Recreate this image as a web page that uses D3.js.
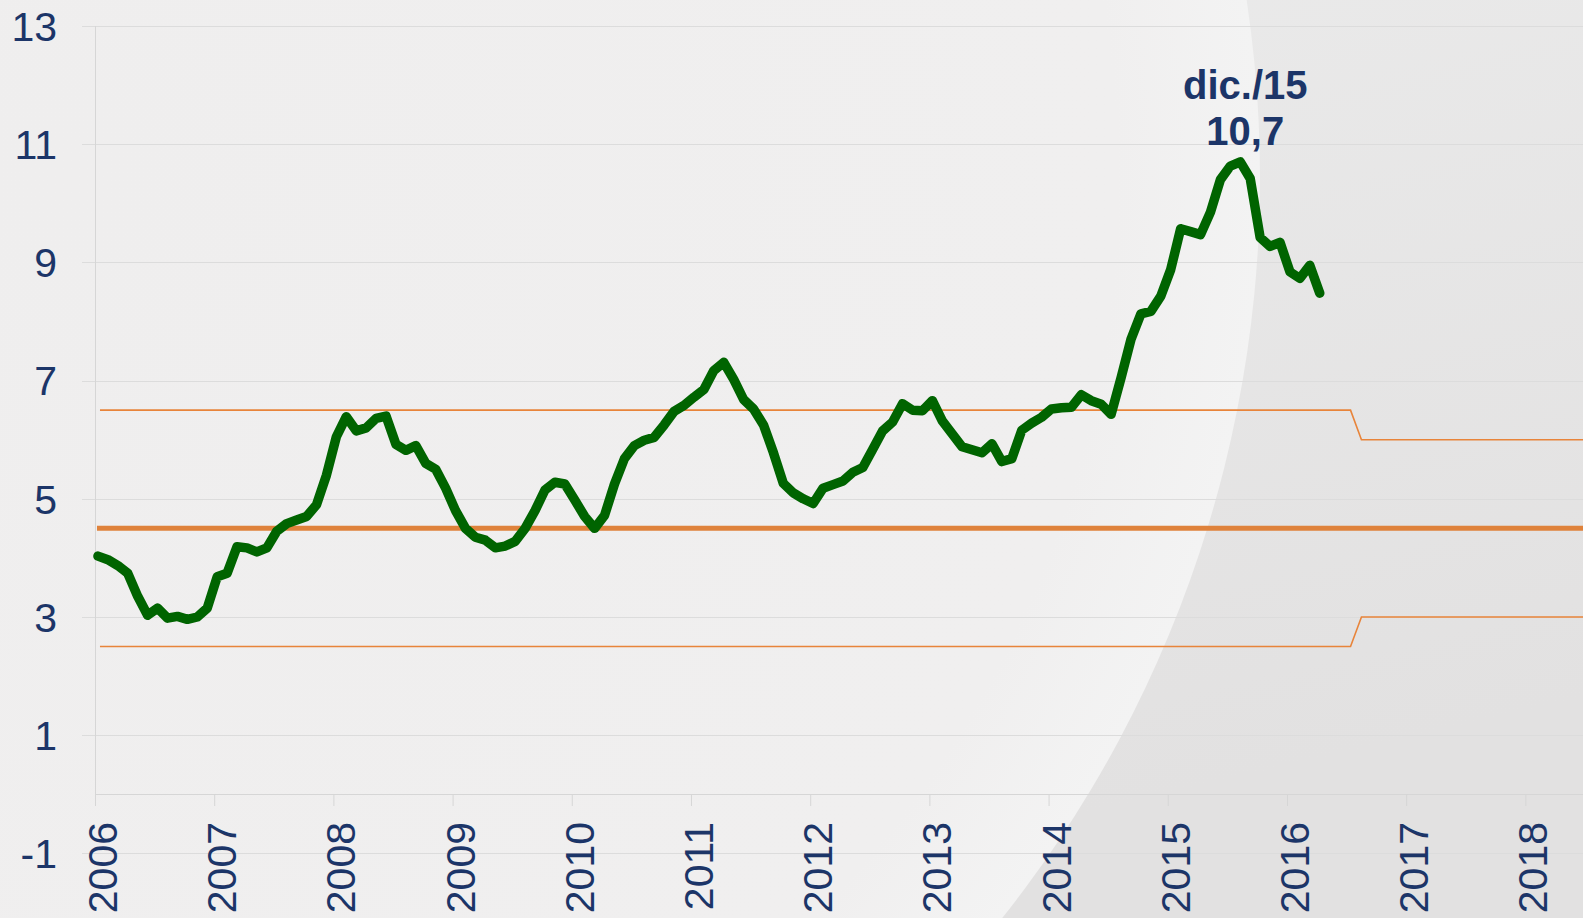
<!DOCTYPE html>
<html>
<head>
<meta charset="utf-8">
<script src="https://cdn.jsdelivr.net/npm/d3@7"></script>
<style>
  html, body { margin: 0; padding: 0; background: #efefef; overflow: hidden; }
  #chart { width: 1583px; height: 918px; }
  text { font-family: "Liberation Sans", Arial, sans-serif; }
</style>
</head>
<body>
<div id="chart"></div>
<script>
// monthly values, first point just right of the 2006 tick, peak = dic./15
var values = [
  4.03, 3.97, 3.87, 3.74, 3.35, 3.03, 3.15, 2.98, 3.01, 2.96, 3.0, 3.15,
  3.68, 3.74, 4.19, 4.17, 4.1, 4.17, 4.45, 4.58, 4.64, 4.7, 4.9, 5.4,
  6.05, 6.39, 6.15, 6.2, 6.36, 6.4, 5.92, 5.82, 5.9, 5.6, 5.5, 5.18,
  4.8, 4.5, 4.35, 4.3, 4.17, 4.2, 4.28, 4.5, 4.8, 5.15, 5.28, 5.25,
  4.98, 4.7, 4.5, 4.72, 5.25, 5.68, 5.9, 5.99, 6.04, 6.25, 6.48, 6.58,
  6.72, 6.85, 7.17, 7.31, 7.02, 6.68, 6.52, 6.25, 5.78, 5.26, 5.1, 5.0,
  4.92, 5.18, 5.24, 5.3, 5.45, 5.53, 5.84, 6.15, 6.3, 6.61, 6.5, 6.49,
  6.66, 6.32, 6.1, 5.88, 5.83, 5.78, 5.93, 5.63, 5.68, 6.16, 6.28, 6.38,
  6.52, 6.54, 6.55, 6.76, 6.66, 6.6, 6.43, 7.05, 7.7, 8.13, 8.17, 8.43,
  8.88, 9.57, 9.52, 9.47, 9.85, 10.4, 10.63, 10.7, 10.42, 9.42, 9.27, 9.34,
  8.84, 8.73, 8.95, 8.48
];
var seriesStart = 0.3; // months after the 2006 tick

var tickYears = [2006, 2007, 2008, 2009, 2010, 2011, 2012, 2013, 2014, 2015, 2016, 2017, 2018];
var yTicks = [-1, 1, 3, 5, 7, 9, 11, 13];

var meanLevel = 4.5;
var meanRange = [0.2, 150];
// tolerance band, in months from the 2006 tick
var upperBand = [
  { m: 0.5, v: 6.5 }, { m: 126.4, v: 6.5 }, { m: 127.5, v: 6.0 }, { m: 150, v: 6.0 }
];
var lowerBand = [
  { m: 0.5, v: 2.5 }, { m: 126.4, v: 2.5 }, { m: 127.5, v: 3.0 }, { m: 150, v: 3.0 }
];

var peakLabel = 'dic./15';

(function () {
  var width = 1583;
  var height = 918;
  var textColor = '#1c3568';

  var svg = d3.select('#chart').append('svg')
    .attr('width', width)
    .attr('height', height);

  // background: grey with a big light arc on the left
  var defs = svg.append('defs');
  var bgGrad = defs.append('linearGradient').attr('id', 'bg')
    .attr('x1', 0).attr('y1', 0).attr('x2', 0.4).attr('y2', 1);
  bgGrad.append('stop').attr('offset', '0%').attr('stop-color', '#ececec');
  bgGrad.append('stop').attr('offset', '100%').attr('stop-color', '#e2e1e1');
  var lightGrad = defs.append('radialGradient').attr('id', 'light')
    .attr('cx', 0.5).attr('cy', 0.5).attr('r', 0.5);
  lightGrad.append('stop').attr('offset', '0%').attr('stop-color', '#efeeee');
  lightGrad.append('stop').attr('offset', '88%').attr('stop-color', '#f0efef');
  lightGrad.append('stop').attr('offset', '100%').attr('stop-color', '#f3f3f3');

  svg.append('rect').attr('width', width).attr('height', height).attr('fill', 'url(#bg)');
  svg.append('circle').attr('cx', 69).attr('cy', 178).attr('r', 1191).attr('fill', 'url(#light)');

  var x = d3.scaleLinear().domain([0, 150]).range([95, 95 + 150 * 9.933]);
  var y = d3.scaleLinear().domain([-1, 13]).range([853.4, 26]);

  // gridlines
  svg.append('g')
    .selectAll('line')
    .data(yTicks)
    .enter().append('line')
    .attr('x1', x(0) - 13)
    .attr('x2', width)
    .attr('y1', function (d) { return Math.round(y(d)) + 0.5; })
    .attr('y2', function (d) { return Math.round(y(d)) + 0.5; })
    .attr('stroke', '#dcdcdc')
    .attr('stroke-width', 1);

  // y axis line (13 down to 0)
  svg.append('line')
    .attr('x1', Math.round(x(0)) + 0.5).attr('x2', Math.round(x(0)) + 0.5)
    .attr('y1', y(13)).attr('y2', y(0))
    .attr('stroke', '#d6d6d6');

  // x axis at 0
  var xAxis = d3.axisBottom(x)
    .tickValues(tickYears.map(function (yr) { return (yr - 2006) * 12; }))
    .tickSize(12)
    .tickFormat('');
  var xg = svg.append('g')
    .attr('transform', 'translate(0,' + Math.round(y(0)) + ')')
    .call(xAxis);
  xg.select('.domain').attr('stroke', '#d6d6d6').attr('d', 'M' + x(0) + ',0.5H' + width);
  xg.selectAll('.tick line').attr('stroke', '#d6d6d6');

  // x labels, rotated
  svg.append('g')
    .selectAll('text')
    .data(tickYears)
    .enter().append('text')
    .attr('transform', function (d) {
      return 'translate(' + (x((d - 2006) * 12) + 22) + ',822) rotate(-90)';
    })
    .attr('text-anchor', 'end')
    .attr('font-size', 41)
    .attr('fill', textColor)
    .text(function (d) { return d; });

  // y labels
  svg.append('g')
    .selectAll('text')
    .data(yTicks)
    .enter().append('text')
    .attr('x', 57)
    .attr('y', function (d) { return y(d); })
    .attr('dy', '0.36em')
    .attr('text-anchor', 'end')
    .attr('font-size', 41)
    .attr('fill', textColor)
    .text(function (d) { return d; });

  // band and mean
  var bandLine = d3.line()
    .x(function (d) { return x(d.m); })
    .y(function (d) { return y(d.v); });

  [upperBand, lowerBand].forEach(function (band) {
    svg.append('path')
      .attr('d', bandLine(band))
      .attr('fill', 'none')
      .attr('stroke', '#e8843a')
      .attr('stroke-width', 1.6);
  });

  svg.append('line')
    .attr('x1', x(meanRange[0])).attr('x2', x(meanRange[1]))
    .attr('y1', y(meanLevel)).attr('y2', y(meanLevel))
    .attr('stroke', '#df823b')
    .attr('stroke-width', 5);

  // series
  var line = d3.line()
    .x(function (d, i) { return x(seriesStart + i); })
    .y(function (d) { return y(d); });

  svg.append('path')
    .attr('d', line(values))
    .attr('fill', 'none')
    .attr('stroke', '#006400')
    .attr('stroke-width', 9.5)
    .attr('stroke-linejoin', 'round')
    .attr('stroke-linecap', 'round');

  // peak annotation
  var peak = d3.maxIndex(values);
  var px = x(seriesStart + peak) + 5;
  var ann = svg.append('g').attr('fill', textColor).attr('font-weight', 'bold')
    .attr('font-size', 40).attr('text-anchor', 'middle');
  ann.append('text').attr('x', px).attr('y', 99).text(peakLabel);
  ann.append('text').attr('x', px).attr('y', 145)
    .text(d3.format('.1f')(values[peak]).replace('.', ','));
})();
</script>
</body>
</html>
